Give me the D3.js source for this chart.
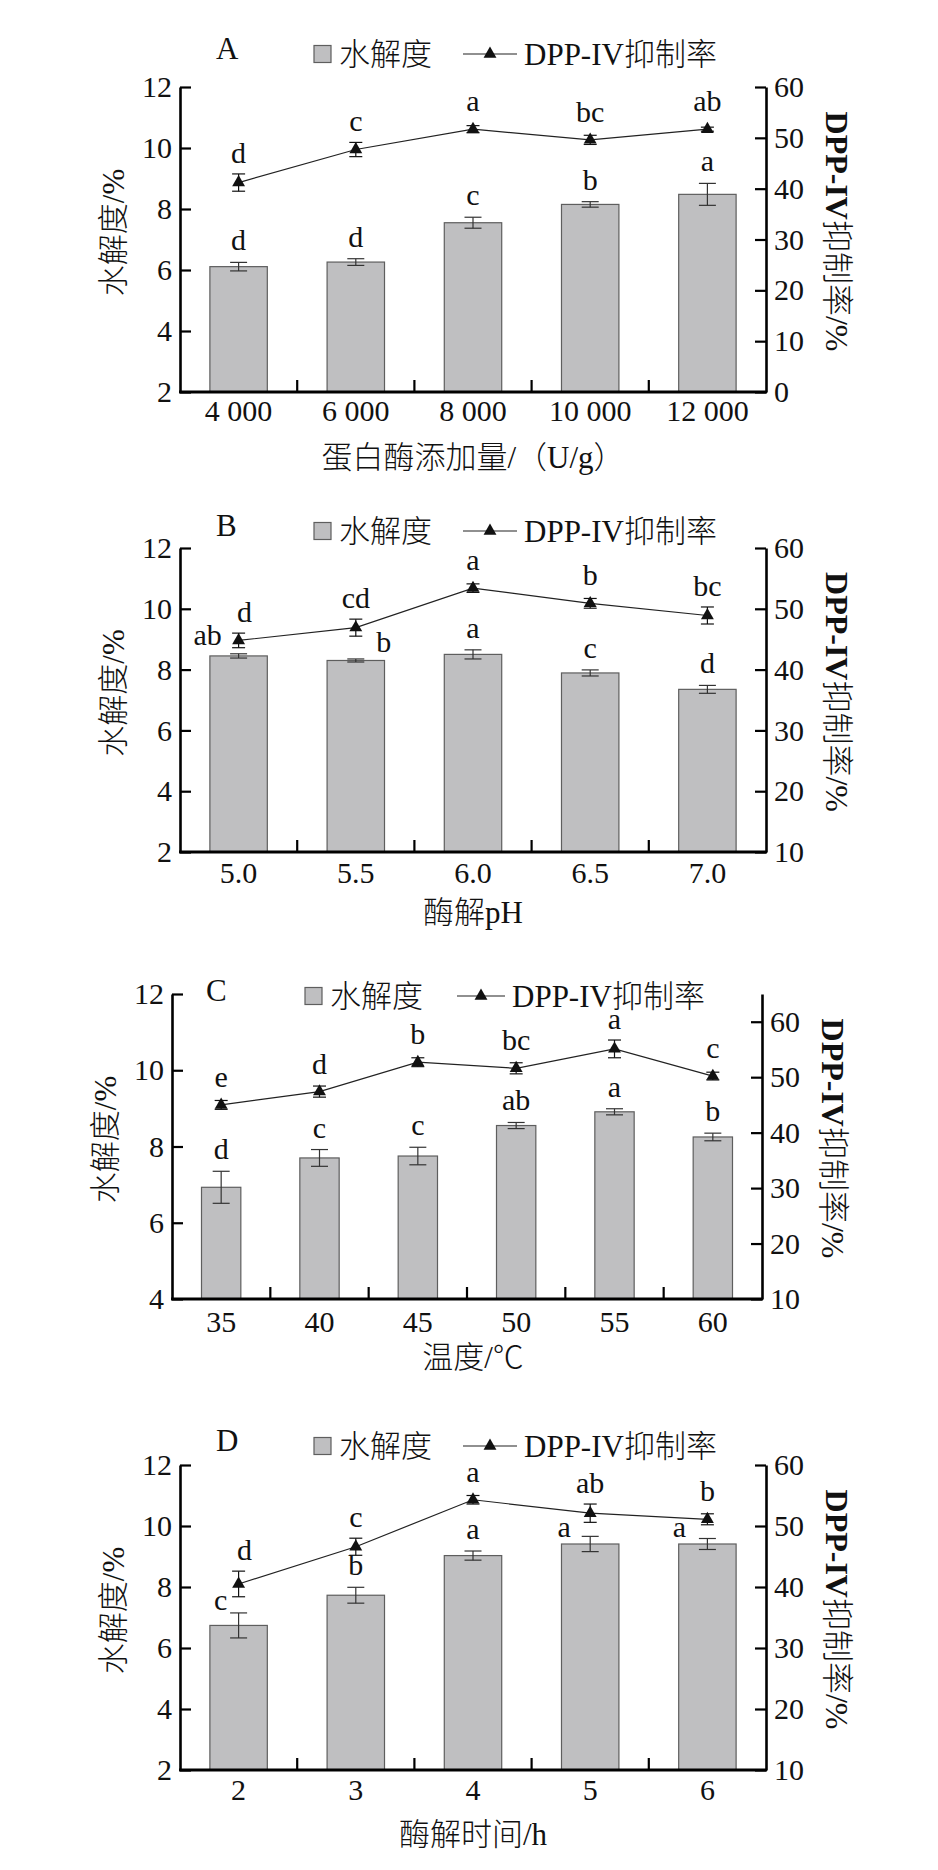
<!DOCTYPE html>
<html>
<head>
<meta charset="utf-8">
<script src="https://cdn.jsdelivr.net/npm/d3@7/dist/d3.min.js"></script>
<style>
  body { margin: 0; background: #fff; }
  svg text { font-family: "Liberation Serif", "Noto Sans CJK SC", serif; fill: #111; font-weight: 300; }
</style>
</head>
<body>
<div id="chart"></div>
<script>
// ---- data ----
var legendBar = "水解度", legendLine = "DPP-IV抑制率";

// A: protease dosage
var aCats = ["4 000", "6 000", "8 000", "10 000", "12 000"];
var aDH = [6.11, 6.26, 7.55, 8.15, 8.48];
var aDHErr = [0.14, 0.11, 0.18, 0.09, 0.36];
var aDPP = [41.2, 47.7, 51.7, 49.6, 51.7];
var aDPPErr = [1.7, 1.4, 0.7, 0.9, 0.4];
var aDHSig = ["d", "d", "c", "b", "a"];
var aDPPSig = ["d", "c", "a", "bc", "ab"];

// B: pH
var bCats = ["5.0", "5.5", "6.0", "6.5", "7.0"];
var bDH = [8.45, 8.30, 8.50, 7.89, 7.35];
var bDHErr = [0.07, 0.05, 0.15, 0.10, 0.13];
var bDPP = [44.8, 46.9, 53.4, 50.9, 48.9];
var bDPPErr = [1.2, 1.4, 0.7, 0.8, 1.4];
var bDHSig = ["ab", "b", "a", "c", "d"];
var bDPPSig = ["d", "cd", "a", "b", "bc"];

// C: temperature
var cCats = ["35", "40", "45", "50", "55", "60"];
var cDH = [6.93, 7.70, 7.75, 8.55, 8.91, 8.25];
var cDHErr = [0.42, 0.22, 0.23, 0.08, 0.08, 0.10];
var cDPP = [45.0, 47.4, 52.7, 51.6, 55.1, 50.2];
var cDPPErr = [0.8, 1.0, 0.8, 1.0, 1.6, 0.7];
var cDHSig = ["d", "c", "c", "ab", "a", "b"];
var cDPPSig = ["e", "d", "b", "bc", "a", "c"];

// D: time
var dCats = ["2", "3", "4", "5", "6"];
var dDH = [6.74, 7.73, 9.03, 9.41, 9.41];
var dDHErr = [0.41, 0.26, 0.15, 0.25, 0.18];
var dDPP = [40.5, 46.6, 54.3, 52.1, 51.1];
var dDPPErr = [2.1, 1.4, 0.7, 1.5, 0.9];
var dDHSig = ["c", "b", "a", "a", "a"];
var dDPPSig = ["d", "c", "a", "ab", "b"];

var leftTicks = [2, 4, 6, 8, 10, 12];
var leftTicksC = [4, 6, 8, 10, 12];
var rightTicksA = [0, 10, 20, 30, 40, 50, 60];
var rightTicks = [10, 20, 30, 40, 50, 60];

var xTitles = ["蛋白酶添加量/（U/g）", "酶解pH", "温度/℃", "酶解时间/h"];

// ---- layout ----
var panels = [
  { key: "A", cats: aCats, dh: aDH, dhErr: aDHErr, dpp: aDPP, dppErr: aDPPErr, dhSig: aDHSig, dppSig: aDPPSig,
    left: 180, right: 766, top: 87, bottom: 392, yDom: [2, 12], y2Dom: [0, 60], yTicks: leftTicks, y2Ticks: rightTicksA,
    barFrac: 0.49, legY: 54, letterX: 216, boxX: 314, lineX: [463, 517], tickDy: 29, titleDy: 76, title: xTitles[0],
    barSigPos: {}, lineSigPos: {} },
  { key: "B", cats: bCats, dh: bDH, dhErr: bDHErr, dpp: bDPP, dppErr: bDPPErr, dhSig: bDHSig, dppSig: bDPPSig,
    left: 180, right: 766, top: 548, bottom: 852, yDom: [2, 12], y2Dom: [10, 60], yTicks: leftTicks, y2Ticks: rightTicks,
    barFrac: 0.49, legY: 531, letterX: 216, boxX: 314, lineX: [463, 517], tickDy: 31, titleDy: 71, title: xTitles[1],
    barSigPos: { 0: { dx: -31, dy: -11 }, 1: { dx: 28, dy: -8 } }, lineSigPos: { 0: { dx: 6 } } },
  { key: "C", cats: cCats, dh: cDH, dhErr: cDHErr, dpp: cDPP, dppErr: cDPPErr, dhSig: cDHSig, dppSig: cDPPSig,
    left: 172, right: 762, top: 994, bottom: 1299, yDom: [4, 12], y2Dom: [10, 65], yTicks: leftTicksC, y2Ticks: rightTicks,
    barFrac: 0.40, legY: 996, letterX: 206, boxX: 305, lineX: [457, 505], tickDy: 33, titleDy: 69, title: xTitles[2],
    barSigPos: {}, lineSigPos: {} },
  { key: "D", cats: dCats, dh: dDH, dhErr: dDHErr, dpp: dDPP, dppErr: dDPPErr, dhSig: dDHSig, dppSig: dDPPSig,
    left: 180, right: 766, top: 1465, bottom: 1770, yDom: [2, 12], y2Dom: [10, 60], yTicks: leftTicks, y2Ticks: rightTicks,
    barFrac: 0.49, legY: 1446, letterX: 216, boxX: 314, lineX: [463, 517], tickDy: 30, titleDy: 75, title: xTitles[3],
    barSigPos: { 0: { dx: -18, dy: -15 }, 3: { dx: -26, dy: -7 }, 4: { dx: -28, dy: -7 } }, lineSigPos: { 0: { dx: 6 } } }
];

var barFill = "#bfbfc1", barStroke = "#5e5e5e";
var tickSize = 30, sigSize = 30, titleSize = 31, rightTitleSize = 32;

var svg = d3.select("#chart").append("svg")
  .attr("width", 938).attr("height", 1870);

var tri = d3.symbol().type(d3.symbolTriangle).size(72);

panels.forEach(function (p) { drawPanel(p); });

function drawPanel(p) {
  var g = svg.append("g");
  var x = d3.scaleBand().domain(p.cats).range([p.left, p.right]);
  var y = d3.scaleLinear().domain(p.yDom).range([p.bottom, p.top]);
  var y2 = d3.scaleLinear().domain(p.y2Dom).range([p.bottom, p.top]);
  var bw = x.bandwidth() * p.barFrac;
  var cx = function (i) { return x(p.cats[i]) + x.bandwidth() / 2; };

  // bars
  g.selectAll("rect.bar").data(p.dh).join("rect")
    .attr("class", "bar")
    .attr("x", function (d, i) { return cx(i) - bw / 2; })
    .attr("y", function (d) { return y(d); })
    .attr("width", bw)
    .attr("height", function (d) { return y(p.yDom[0]) - y(d); })
    .attr("fill", barFill).attr("stroke", barStroke).attr("stroke-width", 1.2);

  // bar error bars
  var eb = g.selectAll("g.eb").data(p.dh).join("g").attr("class", "eb")
    .attr("stroke", "#333").attr("stroke-width", 1.2);
  eb.append("line")
    .attr("x1", function (d, i) { return cx(i); }).attr("x2", function (d, i) { return cx(i); })
    .attr("y1", function (d, i) { return y(d - p.dhErr[i]); })
    .attr("y2", function (d, i) { return y(d + p.dhErr[i]); });
  [-1, 1].forEach(function (s) {
    eb.append("line")
      .attr("x1", function (d, i) { return cx(i) - 8.5; }).attr("x2", function (d, i) { return cx(i) + 8.5; })
      .attr("y1", function (d, i) { return y(d + s * p.dhErr[i]); })
      .attr("y2", function (d, i) { return y(d + s * p.dhErr[i]); });
  });

  // line series
  var line = d3.line().x(function (d, i) { return cx(i); }).y(function (d) { return y2(d); });
  g.append("path").datum(p.dpp).attr("d", line)
    .attr("fill", "none").attr("stroke", "#222").attr("stroke-width", 1.2);

  var le = g.selectAll("g.le").data(p.dpp).join("g").attr("class", "le")
    .attr("stroke", "#111").attr("stroke-width", 1.2);
  le.append("line")
    .attr("x1", function (d, i) { return cx(i); }).attr("x2", function (d, i) { return cx(i); })
    .attr("y1", function (d, i) { return y2(d - p.dppErr[i]); })
    .attr("y2", function (d, i) { return y2(d + p.dppErr[i]); });
  [-1, 1].forEach(function (s) {
    le.append("line")
      .attr("x1", function (d, i) { return cx(i) - 6.5; }).attr("x2", function (d, i) { return cx(i) + 6.5; })
      .attr("y1", function (d, i) { return y2(d + s * p.dppErr[i]); })
      .attr("y2", function (d, i) { return y2(d + s * p.dppErr[i]); });
  });
  g.selectAll("path.tri").data(p.dpp).join("path").attr("class", "tri")
    .attr("d", tri)
    .attr("transform", function (d, i) { return "translate(" + cx(i) + "," + y2(d) + ")"; })
    .attr("fill", "#111");

  // significance letters
  g.selectAll("text.bsig").data(p.dhSig).join("text").attr("class", "bsig")
    .attr("text-anchor", "middle").attr("font-size", sigSize)
    .attr("x", function (d, i) { var o = p.barSigPos[i]; return cx(i) + (o ? o.dx : 0); })
    .attr("y", function (d, i) {
      var o = p.barSigPos[i];
      if (o) return y(p.dh[i]) + o.dy;
      return y(p.dh[i] + p.dhErr[i]) - 12;
    })
    .text(function (d) { return d; });
  g.selectAll("text.lsig").data(p.dppSig).join("text").attr("class", "lsig")
    .attr("text-anchor", "middle").attr("font-size", sigSize)
    .attr("x", function (d, i) { var o = p.lineSigPos[i]; return cx(i) + (o ? o.dx : 0); })
    .attr("y", function (d, i) {
      var top = Math.min(y2(p.dpp[i] + p.dppErr[i]), y2(p.dpp[i]) - 7);
      return top - 11;
    })
    .text(function (d) { return d; });

  // axes
  var yAxis = g.append("g").attr("transform", "translate(" + p.left + ",0)")
    .call(d3.axisLeft(y).tickValues(p.yTicks).tickSize(-11).tickSizeOuter(0).tickPadding(8));
  var y2Axis = g.append("g").attr("transform", "translate(" + p.right + ",0)")
    .call(d3.axisRight(y2).tickValues(p.y2Ticks).tickSize(-11).tickSizeOuter(0).tickPadding(8));
  [yAxis, y2Axis].forEach(function (a) {
    a.attr("font-family", null).attr("font-size", tickSize);
    a.select(".domain").attr("stroke", "#000").attr("stroke-width", 2.6);
    a.selectAll(".tick line").attr("stroke", "#000").attr("stroke-width", 2.2);
    a.selectAll(".tick text").attr("fill", "#111");
  });

  var xAxis = g.append("g").attr("transform", "translate(0," + p.bottom + ")")
    .call(d3.axisBottom(x).tickSize(0).tickPadding(p.tickDy - 0.71 * tickSize));
  xAxis.attr("font-family", null).attr("font-size", tickSize);
  xAxis.select(".domain").remove();
  xAxis.selectAll(".tick text").attr("fill", "#111");
  g.append("line").attr("x1", p.left - 1).attr("x2", p.right + 1)
    .attr("y1", p.bottom).attr("y2", p.bottom)
    .attr("stroke", "#000").attr("stroke-width", 3);
  g.selectAll("line.xt").data(p.cats.slice(1)).join("line").attr("class", "xt")
    .attr("x1", function (d) { return x(d); }).attr("x2", function (d) { return x(d); })
    .attr("y1", p.bottom).attr("y2", p.bottom - 12)
    .attr("stroke", "#000").attr("stroke-width", 2.2);

  // axis titles
  var midY = (p.top + p.bottom) / 2;
  g.append("text").attr("text-anchor", "middle").attr("font-size", titleSize)
    .attr("x", 473).attr("y", p.bottom + p.titleDy).text(p.title);
  g.append("text").attr("text-anchor", "middle").attr("font-size", titleSize)
    .attr("transform", "translate(" + (p.left - 67) + "," + (midY - 7) + ") rotate(-90)")
    .attr("dy", "0.35em").text("水解度/%");
  var rt = g.append("text").attr("text-anchor", "middle").attr("font-size", rightTitleSize)
    .attr("transform", "translate(" + (p.right + 71) + "," + (midY - 8) + ") rotate(90)")
    .attr("dy", "0.35em");
  rt.append("tspan").attr("font-weight", "bold").text("DPP-IV");
  rt.append("tspan").text("抑制率/%");

  // legend
  var lg = g.append("g");
  lg.append("text").attr("x", p.letterX).attr("y", p.legY + 5).attr("font-size", titleSize).text(p.key);
  lg.append("rect").attr("x", p.boxX).attr("y", p.legY - 8.5).attr("width", 17).attr("height", 17)
    .attr("fill", barFill).attr("stroke", barStroke).attr("stroke-width", 1.2);
  lg.append("text").attr("x", p.boxX + 25).attr("y", p.legY + 11).attr("font-size", titleSize).text(legendBar);
  lg.append("line").attr("x1", p.lineX[0]).attr("x2", p.lineX[1])
    .attr("y1", p.legY).attr("y2", p.legY).attr("stroke", "#222").attr("stroke-width", 1.2);
  lg.append("path").attr("d", tri)
    .attr("transform", "translate(" + ((p.lineX[0] + p.lineX[1]) / 2) + "," + p.legY + ")").attr("fill", "#111");
  lg.append("text").attr("x", p.lineX[1] + 7).attr("y", p.legY + 11).attr("font-size", titleSize).text(legendLine);
}
</script>
</body>
</html>
